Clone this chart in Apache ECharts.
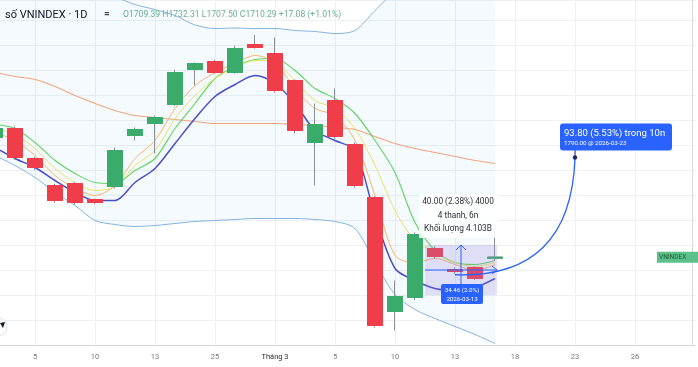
<!DOCTYPE html>
<html><head><meta charset="utf-8">
<script src="https://cdn.jsdelivr.net/npm/echarts@6/dist/echarts.min.js"></script>
<style>html,body{margin:0;padding:0;background:#fff;overflow:hidden}#wrap{position:relative;width:698px;height:367px;overflow:hidden}#c{position:absolute;left:-5px;top:0;width:703px;height:367px}</style>
</head><body><div id="wrap"><div id="c"></div></div>
<script>
// ---- data ----
const dates = ['2026-02-03','2026-02-04','2026-02-05','2026-02-06','2026-02-09','2026-02-10','2026-02-11','2026-02-12','2026-02-13','2026-02-23','2026-02-24','2026-02-25','2026-02-26','2026-02-27','2026-03-02','2026-03-03','2026-03-04','2026-03-05','2026-03-06','2026-03-09','2026-03-10','2026-03-11','2026-03-12','2026-03-13','2026-03-16','2026-03-17','2026-03-18','2026-03-19','2026-03-20','2026-03-23','2026-03-24','2026-03-25','2026-03-26','2026-03-27','2026-03-30','2026-03-31'];
const opens  = [1806.0,1813.2,1789.2,1767.6,1769.2,1756.4,1766.8,1807.6,1817.2,1832.4,1860.4,1866.8,1858.0,1880.4,1873.2,1851.6,1802.0,1835.6,1800.4,1758.0,1666.8,1678.0,1717.2,1700.4,1702.0,1709.39];
const closes = [1813.2,1790.0,1782.0,1755.6,1754.0,1754.0,1795.6,1812.4,1822.0,1858.0,1865.2,1858.0,1877.2,1878.0,1843.6,1811.6,1816.4,1806.8,1767.6,1655.6,1678.8,1728.4,1710.8,1698.8,1693.21,1710.29];
const lows   = [1804.0,1788.0,1780.0,1754.0,1752.5,1752.8,1765.2,1803.6,1793.2,1831.2,1847.6,1857.0,1857.0,1877.0,1842.0,1809.2,1767.6,1805.0,1766.0,1654.0,1651.6,1676.0,1709.0,1697.0,1692.0,1707.50];
const highs  = [1815.0,1815.0,1790.5,1769.0,1770.5,1757.2,1798.0,1814.0,1823.6,1860.4,1866.0,1868.0,1879.6,1888.0,1886.0,1852.4,1833.2,1845.2,1802.0,1759.0,1691.6,1730.0,1719.0,1702.0,1703.0,1732.31];

const maOrange = [1810.0,1803.6,1791.6,1775.6,1765.2,1759.6,1767.6,1789.2,1803.6,1829.2,1847.6,1858.0,1865.2,1871.6,1866.0,1845.2,1829.2,1823.6,1803.6,1759.6,1711.6,1706.0,1709.2,1704.4,1699.6,1704.4];
const maYellow = [1813.2,1808.4,1797.2,1781.2,1770.0,1763.6,1766.8,1783.6,1795.6,1821.2,1839.6,1853.2,1862.0,1867.6,1866.0,1851.6,1835.6,1829.2,1813.2,1783.6,1747.6,1723.6,1714.0,1706.0,1702.8,1706.0];
const maGreen  = [1816.4,1813.2,1802.0,1787.6,1777.2,1770.0,1769.2,1779.6,1789.2,1813.2,1833.2,1853.2,1862.8,1868.4,1869.2,1859.6,1845.2,1837.2,1825.2,1803.6,1778.0,1738.0,1715.6,1706.0,1704.4,1707.6];
const maPurple = [1798.0,1789.2,1782.0,1771.6,1762.0,1755.6,1755.6,1770.0,1781.2,1801.2,1821.2,1838.8,1848.4,1855.6,1849.2,1833.2,1811.6,1803.6,1795.6,1743.6,1701.2,1691.6,1685.2,1683.6,1686.0,1693.2];
const bbBasis  = [1858.0,1854.8,1852.4,1846.8,1839.6,1833.2,1827.6,1823.6,1822.0,1820.4,1818.8,1817.2,1817.2,1817.2,1817.2,1816.4,1815.6,1814.0,1812.4,1806.8,1801.2,1797.2,1794.0,1790.8,1787.6,1785.2];
const bbUpper  = [1924.4,1926.0,1930.8,1931.6,1927.6,1926.8,1918.8,1912.4,1908.4,1903.6,1896.0,1893.2,1893.6,1893.2,1893.2,1891.6,1890.8,1889.2,1891.6,1907.6,1922.0,1926.0,1926.8,1926.8,1926.8,1929.2];
const bbLower  = [1791.6,1783.6,1774.0,1762.0,1751.6,1739.6,1736.4,1734.8,1735.6,1737.2,1738.8,1739.6,1740.4,1741.2,1741.2,1741.2,1740.4,1738.8,1733.2,1706.0,1680.4,1668.4,1661.2,1654.8,1648.4,1641.2];

const tickDates  = ['2026-02-05','2026-02-10','2026-02-13','2026-02-25','2026-03-02','2026-03-05','2026-03-10','2026-03-13','2026-03-18','2026-03-23','2026-03-26'];
const tickLabels = ['5','10','13','25','Tháng 3','5','10','13','18','23','26'];

// annotations (drawing tools)
const measureFrom = '2026-03-12', measureTo = '2026-03-17', measureLow = 1680, measureHigh = 1720;
const projFrom = '2026-03-13', projFromPrice = 1696.2, projTo = '2026-03-23', projToPrice = 1790.0;

const UP = '#3aab6b', DOWN = '#ef3e4a', WICK = '#8c9099';
const FONT = 'Roboto, "Liberation Sans", sans-serif';
const OFF = 5; // chart canvas starts 5px left of the page

const chart = echarts.init(document.getElementById('c'), null, {renderer: 'canvas'});
const n = opens.length;
const candleFull = opens.map((o, i) => [o, closes[i], lows[i], highs[i]]);
const candleBody = opens.map((o, i) => [o, closes[i], Math.min(o, closes[i]), Math.max(o, closes[i])]);
const bbDiff = bbUpper.map((u, i) => +(u - bbLower[i]).toFixed(2));
const isTick = (idx, val) => tickDates.indexOf(val) >= 0;

const lineS = (name, data, color, width, z) => ({
  name, type: 'line', data, symbol: 'none', smooth: 0.3, z: z || 3,
  lineStyle: {color, width}, silent: true
});

chart.setOption({
  animation: false,
  backgroundColor: '#ffffff',
  grid: {left: 0, right: 3, top: 0, bottom: 22, containLabel: false},
  xAxis: {
    type: 'category', data: dates, boundaryGap: false,
    axisLine: {show: true, lineStyle: {color: '#d4d6dc'}},
    axisTick: {show: false},
    axisLabel: {
      interval: isTick, color: '#767983', fontSize: 7.5, fontFamily: FONT, margin: 8,
      formatter: v => { const i = tickDates.indexOf(v); const t = tickLabels[i]; return t.indexOf('Tháng') === 0 ? '{m|' + t + '}' : t; },
      rich: {m: {color: '#2a2e39', fontSize: 7.5, fontFamily: FONT}}
    },
    splitLine: {show: true, interval: isTick, lineStyle: {color: '#eef0f4', width: 1}}
  },
  yAxis: {
    type: 'value', min: 1640, max: 1916, interval: 20, scale: true,
    axisLabel: {show: false}, axisLine: {show: false}, axisTick: {show: false},
    splitLine: {show: true, lineStyle: {color: '#eef0f4', width: 1}}
  },
  series: [
    {name: 'bbLowBase', type: 'line', data: bbLower, stack: 'bb', symbol: 'none', smooth: 0.3,
     lineStyle: {opacity: 0}, silent: true, z: 1},
    {name: 'bbFill', type: 'line', data: bbDiff, stack: 'bb', symbol: 'none', smooth: 0.3,
     lineStyle: {opacity: 0}, areaStyle: {color: 'rgba(33,150,243,0.07)'}, silent: true, z: 1},
    lineS('bbUpper', bbUpper, '#86b4df', 1, 2),
    lineS('bbLower', bbLower, '#86b4df', 1, 2),
    lineS('bbBasis', bbBasis, '#f2a57e', 1.1, 2),
    lineS('maPurple', maPurple, '#4a4fc8', 1.5, 3),
    lineS('maGreen', maGreen, '#5fd45f', 1.1, 3),
    lineS('maYellow', maYellow, '#e9e260', 1, 3),
    lineS('maOrange', maOrange, '#f7b56b', 1, 3),
    {name: 'wicks', type: 'candlestick', data: candleFull, barWidth: 15, z: 4, silent: true,
     itemStyle: {color: UP, color0: DOWN, borderColor: WICK, borderColor0: WICK, borderWidth: 1}},
    {name: 'bodies', type: 'candlestick', data: candleBody, barWidth: 15, z: 5, silent: true,
     itemStyle: {color: UP, color0: DOWN, borderColor: UP, borderColor0: DOWN, borderWidth: 1}}
  ]
});

function px(d, v) { return chart.convertToPixel({xAxisIndex: 0, yAxisIndex: 0}, [d, v]); }

const g = [];
// header (page coords + OFF)
g.push({type: 'text', z: 100, style: {text: 'số VNINDEX · 1D', x: 5 + OFF, y: 15, fill: '#131722', fontSize: 11, fontFamily: FONT, verticalAlign: 'middle'}});
g.push({type: 'text', z: 100, style: {text: '=', x: 104 + OFF, y: 14, fill: '#4a4e59', fontSize: 10, fontWeight: 'bold', fontFamily: FONT, verticalAlign: 'middle'}});
g.push({type: 'text', z: 100, style: {text: 'O' + opens[n-1].toFixed(2) + ' H' + highs[n-1].toFixed(2) + ' L' + lows[n-1].toFixed(2) + ' C' + closes[n-1].toFixed(2) + ' +17.08 (+1.01%)',
  x: 123 + OFF, y: 15, fill: '#66b292', fontSize: 8.6, fontFamily: FONT, verticalAlign: 'middle'}});

// measure tool
const [mx1, myTop] = px(measureFrom, measureHigh);
const [mx2, myBot] = px(measureTo, measureLow);
const bx1 = mx1 - 10, bx2 = mx2 + 2;
const cx = (bx1 + bx2) / 2, cy = (myTop + myBot) / 2;
g.push({type: 'rect', z: 90, shape: {x: bx1, y: myTop, width: bx2 - bx1, height: myBot - myTop}, style: {fill: 'rgba(150,125,225,0.22)'}});
g.push({type: 'line', z: 91, shape: {x1: bx1, y1: cy, x2: bx2, y2: cy}, style: {stroke: '#2962ff', lineWidth: 1}});
g.push({type: 'polyline', z: 91, shape: {points: [[bx2 - 5, cy - 4], [bx2, cy], [bx2 - 5, cy + 4]]}, style: {stroke: '#2962ff', lineWidth: 1, fill: null}});
g.push({type: 'line', z: 91, shape: {x1: cx, y1: myBot, x2: cx, y2: myTop}, style: {stroke: '#2962ff', lineWidth: 1}});
g.push({type: 'polyline', z: 91, shape: {points: [[cx - 5, myTop + 5], [cx, myTop], [cx + 5, myTop + 5]]}, style: {stroke: '#2962ff', lineWidth: 1, fill: null}});
// info box
g.push({type: 'rect', z: 92, shape: {x: bx1 - 6, y: myTop - 51, width: bx2 - bx1 + 8, height: 44}, style: {fill: 'rgba(255,255,255,0.88)'}});
['40.00 (2.38%) 4000', '4 thanh, 6n', 'Khối lượng 4.103B'].forEach((t, i) => {
  g.push({type: 'text', z: 93, style: {text: t, x: cx - 3, y: myTop - 43 + i * 13.5, fill: '#2a2e39', fontSize: 8.3, fontFamily: FONT, align: 'center', verticalAlign: 'middle'}});
});
// blue date label
const [lx] = px('2026-03-13', measureLow);
g.push({type: 'rect', z: 94, shape: {x: lx - 14, y: myBot - 11, width: 42, height: 20, r: 2}, style: {fill: '#2962ff'}});
g.push({type: 'text', z: 95, style: {text: '34.46 (2.0%)', x: lx + 7, y: myBot - 5, fill: '#ffffff', fontSize: 6.2, fontFamily: FONT, align: 'center', verticalAlign: 'middle'}});
g.push({type: 'text', z: 95, style: {text: '2026-03-13', x: lx + 7, y: myBot + 4, fill: '#ffffff', fontSize: 6.2, fontFamily: FONT, align: 'center', verticalAlign: 'middle'}});

// projection curve
const [p0x, p0y] = px(projFrom, projFromPrice);
const [p1x, p1y] = px(projTo, projToPrice);
g.push({type: 'bezierCurve', z: 96, shape: {x1: p0x, y1: p0y, x2: p1x, y2: p1y, cpx1: p1x - 4, cpy1: p0y + 4}, style: {stroke: '#2962ff', lineWidth: 1.3, fill: null}});
g.push({type: 'line', z: 96, shape: {x1: p1x, y1: p1y, x2: p1x, y2: p1y - 8}, style: {stroke: '#1a2a7a', lineWidth: 1}});
g.push({type: 'circle', z: 97, shape: {cx: p1x, cy: p1y, r: 2.2}, style: {fill: '#1a2a7a'}});
g.push({type: 'rect', z: 97, shape: {x: p1x - 15, y: p1y - 34, width: 112, height: 27, r: 3}, style: {fill: '#2962ff'}});
g.push({type: 'text', z: 98, style: {text: '93.80 (5.53%) trong 10n', x: p1x - 11, y: p1y - 24, fill: '#ffffff', fontSize: 9.5, fontFamily: FONT, verticalAlign: 'middle'}});
g.push({type: 'text', z: 98, style: {text: '1790.00 @ 2026-03-23', x: p1x - 11, y: p1y - 14, fill: '#ffffff', fontSize: 6.2, fontFamily: FONT, verticalAlign: 'middle'}});

// right price-scale edge and last price label
g.push({type: 'line', z: 99, shape: {x1: 692.5 + OFF, y1: 0, x2: 692.5 + OFF, y2: 345}, style: {stroke: '#d8dae0', lineWidth: 1}});
const [, lastY] = px(dates[n - 1], closes[n - 1]);
g.push({type: 'rect', z: 100, shape: {x: 657 + OFF, y: lastY - 5.5, width: 41, height: 11}, style: {fill: '#5cc08a'}});
g.push({type: 'text', z: 101, style: {text: 'VNINDEX', x: 659 + OFF, y: lastY, fill: '#1d5a3a', fontSize: 6.5, fontFamily: FONT, verticalAlign: 'middle'}});

// small round tool icon bottom-left (partially visible)
g.push({type: 'circle', z: 100, shape: {cx: -2 + OFF, cy: 327, r: 9}, style: {fill: '#ffffff', stroke: '#e0e3ea', lineWidth: 1}});
g.push({type: 'polygon', z: 101, shape: {points: [[0 + OFF, 323], [5 + OFF, 322], [3 + OFF, 328]]}, style: {fill: '#131722'}});

chart.setOption({graphic: g});
</script>
</body></html>
